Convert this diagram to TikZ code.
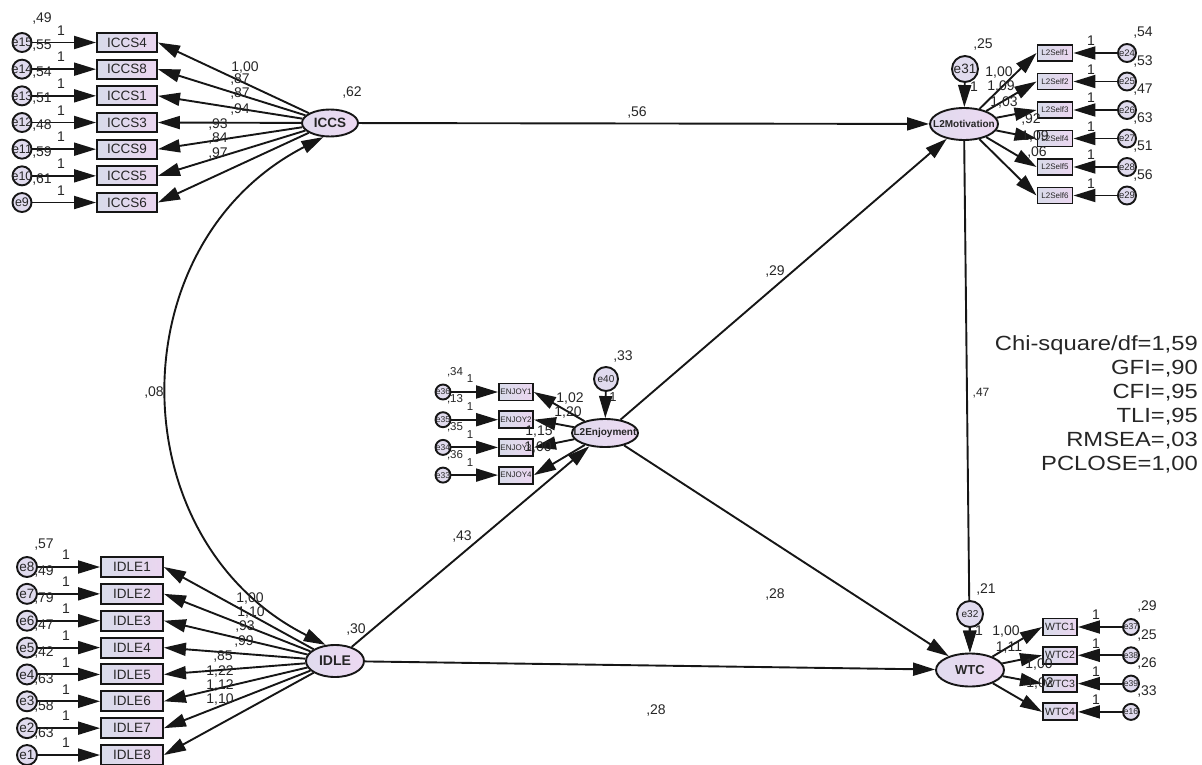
\documentclass[tikz,border=0pt]{standalone}
\usepackage{fontspec}
\setmainfont{Liberation Sans}
\newfontfamily\statfont{Liberation Sans}[FakeStretch=1.16]
\usetikzlibrary{shapes.geometric,arrows.meta}

\definecolor{ink}{HTML}{161616}
\definecolor{txt}{HTML}{262626}
\definecolor{boxL}{HTML}{D8DBEA}
\definecolor{boxR}{HTML}{EBD6F0}
\definecolor{latL}{HTML}{E0DBEE}
\definecolor{latR}{HTML}{EDD9F2}

\tikzset{
  fs/.style={font=\fontsize{#1}{#1}\selectfont},
  fsb/.style={font=\fontsize{#1}{#1}\selectfont\bfseries},
  obsbox/.style={draw=ink, line width=1.9pt, left color=boxL, right color=boxR, inner sep=0pt, text=txt},
  latent/.style={ellipse, draw=ink, line width=1.9pt, left color=latL, right color=latR, inner sep=0pt},
  errc/.style={circle, draw=ink, line width=1.9pt, fill=latL, inner sep=0pt, minimum size=#1},
  lab/.style={text=txt, inner sep=0pt},
  arr/.style={draw=ink, line width=1.9pt, -{Triangle[length=22pt,width=13pt]}},
  cov/.style={draw=ink, line width=1.9pt, {Triangle[length=22pt,width=13pt]}-{Triangle[length=22pt,width=13pt]}},
  stat/.style={text=txt, inner sep=0pt, font=\statfont\fontsize{20.5}{20.5}\selectfont, anchor=base east},
}

\begin{document}
\begin{tikzpicture}[x=1pt,y=-1pt]
\useasboundingbox (0,0) rectangle (1202,765);

% ---- latent variables ----
\node[latent, minimum width=56pt, minimum height=27pt] (iccs) at (330,123) {};
\node[latent, minimum width=58pt, minimum height=32pt] (idle) at (335,661) {};
\node[latent, minimum width=68pt, minimum height=32pt] (mot)  at (964,124) {};
\node[latent, minimum width=66pt, minimum height=28pt] (enj)  at (605,433) {};
\node[latent, minimum width=68pt, minimum height=33pt] (wtc)  at (970,670) {};

% ---- structural paths ----
\draw[arr] (iccs) -- (mot);
\draw[arr] (idle) -- (wtc);
\draw[arr] (idle) -- (enj);
\draw[arr] (enj) -- (mot);
\draw[arr] (enj) -- (wtc);
\draw[arr] (mot) -- (wtc);
\draw[cov] (iccs.245) to[bend right=63, looseness=1.17] (idle.120);

% ---- disturbances of the endogenous factors ----
\node[errc=26pt] (e31) at (965,69) {};
\node[errc=24pt] (e40) at (606,379) {};
\node[errc=26pt] (e32) at (970,614) {};
\draw[arr] (e31) -- (mot);
\draw[arr] (e40) -- (enj);
\draw[arr] (e32) -- (wtc);
\node[lab, fs=13.5] (te31) at (e31.center) {e31};
\node[lab, fs=10] (te40) at (e40.center) {e40};
\node[lab, fs=10] (te32) at (e32.center) {e32};

% ---- ICCS indicators ----
\foreach \i/\e/\b/\v in {0/15/4/49, 1/14/8/55, 2/13/1/54, 3/12/3/51, 4/11/9/48, 5/10/5/59, 6/9/6/61}{
  \pgfmathsetmacro\yy{42.5+26.67*\i}
  \node[obsbox, minimum width=60pt, minimum height=19pt, fs=13.5] (ic\b) at (127,\yy) {ICCS\b};
  \node[errc=19pt] (e\e) at (22,\yy) {};
  \draw[arr] (e\e) -- (ic\b);
  \draw[arr] (iccs) -- (ic\b.east);
  \node[lab, fs=12.5] (te\e) at (e\e.center) {e\e};
  \node[lab, fs=14] (one\e) at (61,\yy-12) {1};
  \node[lab, fs=14] (var\e) at (42,\yy-23.5) {,\v};
}

% ---- IDLE indicators ----
\foreach \i/\e/\v in {0/8/57, 1/7/49, 2/6/79, 3/5/47, 4/4/42, 5/3/63, 6/2/58, 7/1/63}{
  \pgfmathsetmacro\yy{567+26.86*\i}
  \pgfmathtruncatemacro\k{\i+1}
  \node[obsbox, minimum width=62pt, minimum height=20pt, fs=13.5] (id\k) at (132,\yy) {IDLE\k};
  \node[errc=20pt] (e\e) at (27,\yy) {};
  \draw[arr] (e\e) -- (id\k);
  \draw[arr] (idle) -- (id\k.east);
  \node[lab, fs=13.5] (te\e) at (e\e.center) {e\e};
  \node[lab, fs=14] (one\e) at (66,\yy-12) {1};
  \node[lab, fs=14] (var\e) at (44,\yy-22) {,\v};
}

% ---- L2 motivation indicators ----
\foreach \i/\e/\v in {0/24/54, 1/25/53, 2/26/47, 3/27/63, 4/28/51, 5/29/56}{
  \pgfmathsetmacro\yy{53+28.5*\i}
  \pgfmathtruncatemacro\k{\i+1}
  \node[obsbox, minimum width=35pt, minimum height=16pt, fs=8] (ls\k) at (1055,\yy) {L2Self\k};
  \node[errc=18pt] (e\e) at (1127,\yy) {};
  \draw[arr] (e\e) -- (ls\k);
  \draw[arr] (mot) -- (ls\k.west);
  \node[lab, fs=9.5] (te\e) at (e\e.center) {e\e};
  \node[lab, fs=14] (one\e) at (1091,\yy-12) {1};
  \node[lab, fs=14] (var\e) at (1143,\yy-20) {,\v};
}

% ---- WTC indicators ----
\foreach \i/\e/\v in {0/37/29, 1/38/25, 2/39/26, 3/16/33}{
  \pgfmathsetmacro\yy{627+28.3*\i}
  \pgfmathtruncatemacro\k{\i+1}
  \node[obsbox, minimum width=34pt, minimum height=17pt, fs=10.5] (w\k) at (1060,\yy) {WTC\k};
  \node[errc=16pt] (e\e) at (1131,\yy) {};
  \draw[arr] (e\e) -- (w\k);
  \draw[arr] (wtc) -- (w\k.west);
  \node[lab, fs=8.5] (te\e) at (e\e.center) {e\e};
  \node[lab, fs=14] (one\e) at (1096,\yy-12) {1};
  \node[lab, fs=14] (var\e) at (1147,\yy-20) {,\v};
}

% ---- L2 enjoyment indicators ----
\foreach \i/\e/\v in {0/36/34, 1/35/13, 2/34/35, 3/33/36}{
  \pgfmathsetmacro\yy{392+27.7*\i}
  \pgfmathtruncatemacro\k{\i+1}
  \node[obsbox, minimum width=34pt, minimum height=17pt, fs=8] (en\k) at (516,\yy) {ENJOY\k};
  \node[errc=15pt] (e\e) at (443,\yy) {};
  \draw[arr] (e\e) -- (en\k.west);
  \draw[arr] (enj) -- (en\k.east);
  \node[lab, fs=8.5] (te\e) at (e\e.center) {e\e};
  \node[lab, fs=11.5] (var\e) at (455,\yy-20) {,\v};
  \node[lab, fs=11.5] (one\e) at (470,\yy-13) {1};
}

% ---- factor names ----
\node[lab, fsb=13.5] (iccsT) at (iccs.center) {ICCS};
\node[lab, fsb=14]   (idleT) at (idle.center) {IDLE};
\node[lab, fsb=10]   (motT)  at (mot.center)  {L2Motivation};
\node[lab, fsb=10]   (enjT)  at (enj.center)  {L2Enjoyment};
\node[lab, fsb=13]   (wtcT)  at (wtc.center)  {WTC};

% ---- factor loadings ----
\foreach \x/\y/\t [count=\n] in {245/68/{1,00}, 240/80/{,87}, 240/94/{,87}, 240/110/{,94}, 218/125/{,93}, 218/139/{,84}, 218/154/{,97}}
  \node[lab, fs=14] (lic\n) at (\x,\y) {\t};
\foreach \x/\y/\t [count=\n] in {250/599/{1,00}, 251/613/{1,10}, 245/627/{,93}, 244/642/{,99}, 223/657/{,85}, 220/672/{1,22}, 220/686/{1,12}, 220/700/{1,10}}
  \node[lab, fs=14] (lid\n) at (\x,\y) {\t};
\foreach \x/\y/\t [count=\n] in {999/73/{1,00}, 1001/87/{1,09}, 1004/103/{1,03}, 1031/120/{,92}, 1035/137/{1,09}, 1037/153/{,06}}
  \node[lab, fs=14] (lls\n) at (\x,\y) {\t};
\foreach \x/\y/\t [count=\n] in {1006/632/{1,00}, 1009/648/{1,11}, 1039/665/{1,00}, 1040/684/{1,02}}
  \node[lab, fs=14] (lw\n) at (\x,\y) {\t};
\foreach \x/\y/\t [count=\n] in {570/399/{1,02}, 568/413/{1,20}, 539/432/{1,15}, 538/448/{1,00}}
  \node[lab, fs=14] (len\n) at (\x,\y) {\t};

% ---- variances, path and covariance estimates ----
\node[lab, fs=14] (vIccs) at (352,93)  {,62};
\node[lab, fs=14] (vIdle) at (356,630) {,30};
\node[lab, fs=14] (vE31)  at (983,45)  {,25};
\node[lab, fs=14] (vE32)  at (986,590) {,21};
\node[lab, fs=14] (vE40)  at (623,357) {,33};
\node[lab, fs=14] (oE31)  at (974,87)  {1};
\node[lab, fs=13] (oE40)  at (613,397) {1};
\node[lab, fs=14] (oE32)  at (979,631) {1};
\node[lab, fs=14] (pIM)   at (637,113) {,56};
\node[lab, fs=14] (pEM)   at (775,272) {,29};
\node[lab, fs=14] (pEW)   at (775,595) {,28};
\node[lab, fs=14] (pIE)   at (462,537) {,43};
\node[lab, fs=14] (pIW)   at (656,711) {,28};
\node[lab, fs=12] (pMW)   at (981,393) {,47};
\node[lab, fs=14] (cII)   at (154,393) {,08};

% ---- model fit ----
\node[stat] (fit1) at (1198,350) {Chi-square/df=1,59};
\node[stat] (fit2) at (1198,374) {GFI=,90};
\node[stat] (fit3) at (1198,398) {CFI=,95};
\node[stat] (fit4) at (1198,422) {TLI=,95};
\node[stat] (fit5) at (1198,446) {RMSEA=,03};
\node[stat] (fit6) at (1198,470) {PCLOSE=1,00};
\end{tikzpicture}
\end{document}
